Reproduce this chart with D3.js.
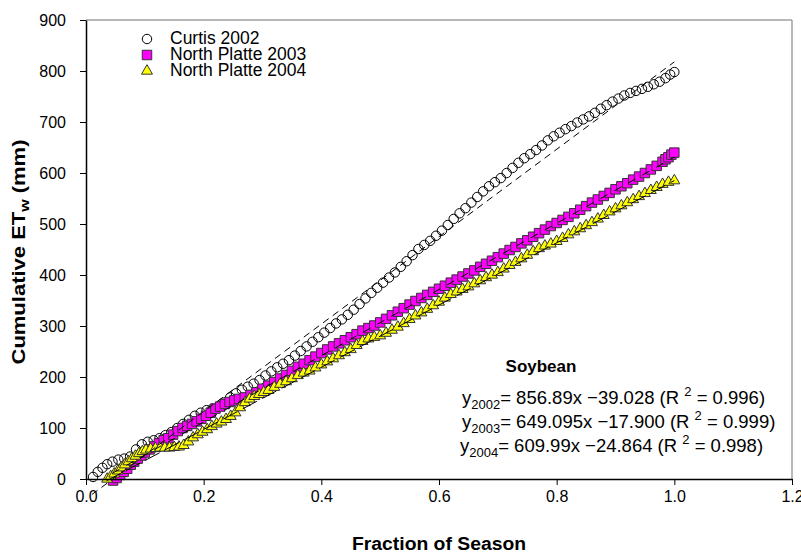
<!DOCTYPE html>
<html><head><meta charset="utf-8">
<script src="https://cdn.jsdelivr.net/npm/d3@7"></script>
<style>body{margin:0;background:#fff} svg{display:block} text{font-family:"Liberation Sans",Arial,sans-serif}</style>
</head><body><svg id="c" width="801" height="555"></svg>
<script>
const curtis2002 = [[0.012,4],[0.02,14],[0.028,22],[0.036,29],[0.045,34],[0.055,38],[0.065,40],[0.075,44],[0.085,58],[0.095,68],[0.105,73],[0.115,76],[0.125,80],[0.135,86],[0.145,92],[0.155,100],[0.165,108],[0.175,116],[0.185,124],[0.195,130],[0.205,135],[0.215,138],[0.225,142],[0.235,150],[0.245,160],[0.255,168],[0.265,175],[0.275,181],[0.285,187],[0.295,194],[0.305,203],[0.315,211],[0.325,219],[0.335,226],[0.345,233],[0.355,242],[0.365,251],[0.375,260],[0.385,269],[0.395,278],[0.405,287],[0.415,296],[0.425,305],[0.435,313],[0.445,322],[0.455,332],[0.465,343],[0.475,354],[0.485,365],[0.495,375],[0.505,385],[0.515,395],[0.525,405],[0.535,416],[0.545,427],[0.555,439],[0.565,451],[0.575,459],[0.585,467],[0.595,477],[0.605,487],[0.615,498],[0.625,510],[0.635,521],[0.645,531],[0.655,542],[0.665,553],[0.675,564],[0.685,574],[0.695,582],[0.705,590],[0.715,600],[0.725,610],[0.735,620],[0.745,629],[0.755,637],[0.765,645],[0.775,654],[0.785,664],[0.795,672],[0.805,679],[0.815,686],[0.825,692],[0.835,699],[0.845,705],[0.855,711],[0.865,718],[0.875,726],[0.885,733],[0.895,740],[0.905,746],[0.915,752],[0.925,757],[0.935,761],[0.945,765],[0.955,769],[0.965,774],[0.975,779],[0.985,786],[0.993,793],[1.0,798]];
const northPlatte2003 = [[0.046,-3],[0.052,2],[0.058,8],[0.064,14],[0.07,20],[0.076,28],[0.082,34],[0.088,40],[0.094,46],[0.1,52],[0.108,58],[0.116,64],[0.124,70],[0.132,76],[0.14,80],[0.148,87],[0.156,94],[0.164,100],[0.172,104],[0.18,108],[0.188,113],[0.196,118],[0.204,124],[0.212,130],[0.22,138],[0.228,142],[0.236,147],[0.244,151],[0.252,154],[0.26,157],[0.27,160],[0.28,165],[0.29,170],[0.3,177],[0.31,183],[0.32,190],[0.33,197],[0.34,204],[0.35,212],[0.36,220],[0.37,226],[0.38,233],[0.39,240],[0.4,247],[0.41,254],[0.42,260],[0.43,266],[0.44,272],[0.45,278],[0.46,284],[0.47,291],[0.48,296],[0.49,301],[0.5,307],[0.51,314],[0.52,321],[0.53,328],[0.54,335],[0.55,342],[0.56,349],[0.57,355],[0.58,361],[0.59,367],[0.6,373],[0.61,379],[0.62,385],[0.63,391],[0.64,397],[0.65,403],[0.66,409],[0.67,416],[0.68,422],[0.69,428],[0.7,435],[0.71,442],[0.72,449],[0.73,455],[0.74,462],[0.75,468],[0.76,475],[0.77,482],[0.78,489],[0.79,496],[0.8,502],[0.81,508],[0.82,514],[0.83,521],[0.84,528],[0.85,535],[0.86,542],[0.87,548],[0.88,555],[0.89,561],[0.9,568],[0.91,574],[0.92,580],[0.93,587],[0.94,593],[0.95,600],[0.96,607],[0.97,614],[0.98,622],[0.985,627],[0.99,631],[0.995,636],[1.0,640]];
const northPlatte2004 = [[0.036,0],[0.042,5],[0.048,10],[0.054,16],[0.06,22],[0.066,28],[0.072,34],[0.078,40],[0.084,45],[0.09,50],[0.096,54],[0.102,57],[0.11,59],[0.118,60],[0.126,61],[0.134,61],[0.142,61],[0.15,62],[0.158,63],[0.166,66],[0.174,73],[0.182,81],[0.19,87],[0.198,92],[0.206,97],[0.214,103],[0.222,108],[0.23,112],[0.238,117],[0.246,123],[0.254,130],[0.262,140],[0.27,150],[0.278,157],[0.286,162],[0.294,166],[0.302,170],[0.31,174],[0.32,180],[0.33,186],[0.34,191],[0.35,197],[0.36,203],[0.37,208],[0.38,212],[0.39,218],[0.4,224],[0.41,230],[0.42,236],[0.43,242],[0.44,248],[0.45,254],[0.46,262],[0.47,270],[0.48,275],[0.49,278],[0.5,281],[0.51,286],[0.52,292],[0.53,298],[0.54,305],[0.55,313],[0.56,320],[0.57,326],[0.58,333],[0.59,340],[0.6,347],[0.61,355],[0.62,362],[0.63,367],[0.64,372],[0.65,377],[0.66,383],[0.67,389],[0.68,395],[0.69,400],[0.7,405],[0.71,412],[0.72,419],[0.73,425],[0.74,432],[0.75,439],[0.76,446],[0.77,452],[0.78,457],[0.79,461],[0.8,466],[0.81,472],[0.82,479],[0.83,485],[0.84,491],[0.85,497],[0.86,503],[0.87,510],[0.88,517],[0.89,524],[0.9,530],[0.91,536],[0.92,542],[0.93,548],[0.94,554],[0.95,560],[0.96,566],[0.97,572],[0.98,578],[0.99,582],[1.0,585]];

const seriesNames = ["Curtis 2002", "North Platte 2003", "North Platte 2004"];
const fitYears = ["2002", "2003", "2004"];
const fitSlopes = [856.89, 649.095, 609.99];
const fitIntercepts = [-39.028, -17.900, -24.864];
const fitR2 = [0.996, 0.999, 0.998];
const fitStart = [0.01, 0.045, 0.035];
const fitEnd = [1.0, 1.0, 1.0];
const xTicks = [0, 0.2, 0.4, 0.6, 0.8, 1.0, 1.2];
const yTicks = [0, 100, 200, 300, 400, 500, 600, 700, 800, 900];

const svg = d3.select("#c");
const L = 86, R = 792, T = 20, B = 479;
const x = d3.scaleLinear().domain([0, 1.2]).range([L, R]);
const y = d3.scaleLinear().domain([0, 900]).range([B, T]);

svg.append("line").attr("x1", L).attr("x2", R).attr("y1", T).attr("y2", T).attr("stroke", "#a0a0a0").attr("stroke-width", 1.5);
svg.append("line").attr("x1", R).attr("x2", R).attr("y1", T).attr("y2", B).attr("stroke", "#a0a0a0").attr("stroke-width", 1.5);

const plot = svg.append("g");
const sym = [d3.symbolCircle, d3.symbolSquare, d3.symbolTriangle];
const symSize = [70, 90, 52];
const fills = ["none", "#ff00ff", "#ffff00"];
const strokes = ["#000", "#333", "#333"];
const data = [curtis2002, northPlatte2003, northPlatte2004];

data.forEach((ser, i) => {
  plot.append("g").selectAll("path").data(ser).join("path")
    .attr("transform", d => `translate(${x(d[0])},${y(d[1])})`)
    .attr("d", d3.symbol().type(sym[i]).size(symSize[i]))
    .attr("fill", fills[i]).attr("stroke", strokes[i]).attr("stroke-width", 1);
});

const dashes = ["7,5", "8,8", "16,6"];
const line = d3.line().x(d => x(d[0])).y(d => y(d[1]));
fitSlopes.forEach((m, i) => {
  const pts = [fitStart[i], fitEnd[i]].map(v => [v, m * v + fitIntercepts[i]]);
  plot.append("path").attr("d", line(pts)).attr("fill", "none")
    .attr("stroke", "#000").attr("stroke-width", 1).attr("stroke-dasharray", dashes[i]);
});

const ax = svg.append("g").attr("transform", `translate(0,${B})`)
  .call(d3.axisBottom(x).tickValues(xTicks).tickFormat(d3.format(".1f")).tickSize(6).tickSizeOuter(0).tickPadding(6));
const ay = svg.append("g").attr("transform", `translate(${L},0)`)
  .call(d3.axisLeft(y).tickValues(yTicks).tickSize(6).tickSizeOuter(0).tickPadding(14));
[ax, ay].forEach(a => {
  a.selectAll("text").attr("font-size", 16).attr("fill", "#000").attr("font-family", '"Liberation Sans",Arial,sans-serif');
  a.select(".domain").attr("stroke", "#000").attr("stroke-width", 1.5);
  a.selectAll(".tick line").attr("stroke", "#000");
});

svg.append("text").attr("x", (L + R) / 2).attr("y", 550).attr("text-anchor", "middle")
  .attr("font-weight", "bold").attr("font-size", 18).attr("textLength", 174).attr("lengthAdjust", "spacingAndGlyphs")
  .text("Fraction of Season");
const yt = svg.append("text").attr("transform", `translate(25,252) rotate(-90)`)
  .attr("text-anchor", "middle").attr("font-weight", "bold").attr("font-size", 18)
  .attr("textLength", 225).attr("lengthAdjust", "spacingAndGlyphs");
yt.append("tspan").text("Cumulative ET");
yt.append("tspan").attr("font-size", 13).attr("dy", 4).text("w");
yt.append("tspan").attr("dy", -4).text(" (mm)");

const lg = svg.append("g");
seriesNames.forEach((n, i) => {
  const cy = 39 + i * 16;
  lg.append("path").attr("transform", `translate(147,${cy})`)
    .attr("d", d3.symbol().type(sym[i]).size(symSize[i]))
    .attr("fill", fills[i] === "none" ? "#fff" : fills[i]).attr("stroke", strokes[i]);
  lg.append("text").attr("x", 170).attr("y", cy + 5).attr("font-size", 17.5).text(n);
});

svg.append("text").attr("x", 541).attr("y", 372).attr("text-anchor", "middle")
  .attr("font-weight", "bold").attr("font-size", 17).text("Soybean");
const f3 = d3.format(".3f");
fitYears.forEach((yr, i) => {
  const t = svg.append("text").attr("x", 462 - (i === 2 ? 2 : 0)).attr("y", 404 + i * 24).attr("font-size", 18.5);
  t.append("tspan").text("y");
  t.append("tspan").attr("font-size", 13).attr("dy", 5).text(yr);
  t.append("tspan").attr("dy", -5).text(`= ${fitSlopes[i]}x \u2212${f3(Math.abs(fitIntercepts[i]))} (R `);
  t.append("tspan").attr("font-size", 13).attr("dy", -8).text("2");
  t.append("tspan").attr("dy", 8).text(` = ${f3(fitR2[i])})`);
});
</script></body></html>
